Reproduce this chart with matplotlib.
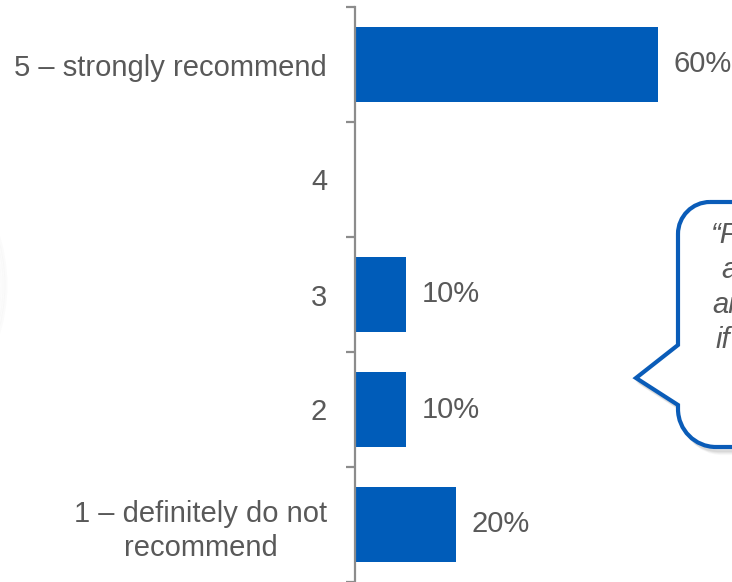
import matplotlib
matplotlib.use("Agg")
import matplotlib.pyplot as plt
from matplotlib.path import Path
from matplotlib.patches import PathPatch, Arc
import numpy as np

plt.rcParams['font.family'] = ['Liberation Sans', 'DejaVu Sans']

# Survey responses: likelihood to recommend
categories = ["1 – definitely do not\nrecommend", "2", "3", "4", "5 – strongly recommend"]
shares = [20, 10, 10, 0, 60]
value_labels = ["20%", "10%", "10%", None, "60%"]
quote_lines = ["“F", "a", "ai", "if"]

BAR_BLUE = "#005CB9"
TEXT_GRAY = "#595959"
AXIS_GRAY = "#8C8C8C"
FS = 21

W, H = 732, 582
fig = plt.figure(figsize=(W / 100, H / 100), dpi=100)

ax = fig.add_axes([355 / W, 0, 1 - 355 / W, 575 / H])
y = np.arange(len(categories))
ax.barh(y, shares, height=0.66, color=BAR_BLUE, zorder=2)
ax.set_ylim(-0.5, len(categories) - 0.5)
ax.set_xlim(0, 377 / 303 * 60)

for yi, v, lab in zip(y, shares, value_labels):
    if lab is None:
        continue
    ax.annotate(lab, xy=(v, yi), xytext=(11.5, 0), textcoords="offset points",
                ha="left", va="center", fontsize=FS, color=TEXT_GRAY)

for s in ["top", "right", "bottom"]:
    ax.spines[s].set_visible(False)
ax.spines["left"].set_color(AXIS_GRAY)
ax.spines["left"].set_linewidth(1.6)
ax.set_xticks([])
ax.set_yticks(y)
ax.set_yticklabels(categories, fontsize=FS, color=TEXT_GRAY)
for t in ax.get_yticklabels():
    t.set_multialignment("center")
    t.set_linespacing(1.3)
ax.tick_params(axis="y", which="major", length=0, pad=20)
ax.set_yticks(np.arange(-0.5, len(categories) + 0.5, 1.0), minor=True)
ax.tick_params(axis="y", which="minor", length=6.5, width=1.6, color=AXIS_GRAY,
               direction="out")

# Overlay in pixel coordinates for the callout and decoration
ov = fig.add_axes([0, 0, 1, 1], zorder=5)
ov.set_xlim(0, W)
ov.set_ylim(H, 0)
ov.axis("off")
ov.patch.set_alpha(0)

# faint shadow of a shape just off the left edge
for i, a in enumerate([0.04, 0.03, 0.025, 0.02]):
    ov.add_patch(Arc((-160, 285), 2 * (166 - i * 2), 2 * (166 - i * 2), theta1=-40, theta2=40,
                     color="#9a9a9a", lw=2.0, alpha=a))

# speech bubble outline
k = 0.5523
left, top, bottom, right = 678, 202, 447, 820
rt, rb = 32, 38
verts = [
    (left + rt, top), (right, top), (right, bottom), (left + rb, bottom),
    (left + rb - k * rb, bottom), (left, bottom - rb + k * rb), (left, bottom - rb),
    (left, 405), (636, 378), (left, 345), (left, top + rt),
    (left, top + rt - k * rt), (left + rt - k * rt, top), (left + rt, top),
]
codes = [Path.MOVETO, Path.LINETO, Path.LINETO, Path.LINETO,
         Path.CURVE4, Path.CURVE4, Path.CURVE4,
         Path.LINETO, Path.LINETO, Path.LINETO, Path.LINETO,
         Path.CURVE4, Path.CURVE4, Path.CURVE4]
bubble = Path(verts, codes)
for dx, dy, a in [(6, 6, 0.05), (5, 5, 0.07), (4, 4, 0.09), (3, 3, 0.11)]:
    sh = Path(np.array(verts) + [dx, dy], codes)
    ov.add_patch(PathPatch(sh, facecolor="none", edgecolor="#7a7a7a", lw=3, alpha=a))
ov.add_patch(PathPatch(bubble, facecolor="white", edgecolor="#0A5CB8", lw=3.0,
                       joinstyle="miter"))

for (x0, yb), line in zip([(711, 243), (721, 278), (712, 313), (716, 348)], quote_lines):
    ov.text(x0, yb, line, fontsize=FS, style="italic", color=TEXT_GRAY,
            ha="left", va="baseline")

fig.savefig("out.png", dpi=100)
